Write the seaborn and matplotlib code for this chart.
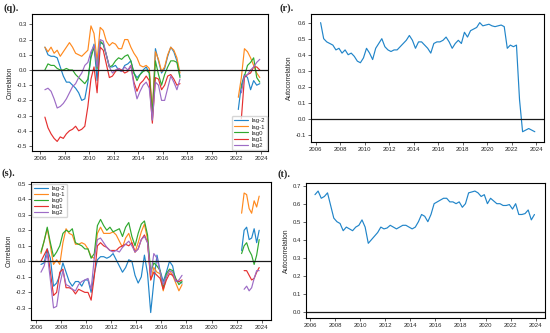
import numpy as np
import pandas as pd
import matplotlib
matplotlib.use("Agg")
import matplotlib.pyplot as plt
import seaborn as sns

sns.set_style("ticks")
plt.rcParams["font.family"] = ["Liberation Sans", "DejaVu Sans"]

# ---------------- categories ----------------
lags = ["lag-2", "lag-1", "lag0", "lag1", "lag2"]
lag_colors = ["#2185c9", "#ff8a1f", "#30a830", "#e53030", "#9d6cc6"]
year_ticks = [2006, 2008, 2010, 2012, 2014, 2016, 2018, 2020, 2022, 2024]

# time grids (decimal years)
t_q1 = np.round(2006.4 + 0.25 * np.arange(45), 2)
t_q2 = np.round(2022.15 + 0.25 * np.arange(8), 2)
t_s1 = np.round(2006.4 + 0.25 * np.arange(46), 2)
t_s2 = np.round(2022.4 + 0.2 * np.arange(8), 2)
t_full = np.round(2006.4 + 0.25 * np.arange(71), 2)

# ---------------- panel (q) ----------------
q1_lag_m2 = [0.15, 0.10, 0.09, 0.09, 0.08, 0.02, -0.04, -0.08, -0.08, -0.10, -0.12, -0.15, -0.20, -0.19, -0.08,
             0.10, 0.17, -0.07, 0.18, 0.17, 0.10, 0.02, 0.02, 0.03, 0.00, -0.01, 0.03, 0.04, 0.06, -0.02,
             -0.05, -0.03, 0.00, 0.02, -0.02, -0.33, 0.14, 0.06, -0.02, 0.01, 0.09, 0.15, 0.12, 0.06, -0.04]
q1_lag_m1 = [0.15, 0.12, 0.15, 0.11, 0.13, 0.09, 0.12, 0.15, 0.18, 0.15, 0.11, 0.10, 0.09, 0.11, 0.13,
             0.29, 0.24, 0.06, 0.28, 0.26, 0.19, 0.16, 0.18, 0.17, 0.14, 0.14, 0.20, 0.20, 0.15, 0.11,
             0.08, 0.03, 0.02, 0.03, 0.01, -0.27, 0.12, 0.07, -0.01, 0.02, 0.10, 0.15, 0.13, 0.08, -0.02]
q1_lag_0 = [0.00, 0.04, 0.03, 0.03, 0.01, 0.00, 0.00, 0.01, 0.00, 0.00, -0.03, -0.05, -0.07, -0.09, -0.06,
            0.08, 0.15, 0.01, 0.19, 0.17, 0.10, 0.02, 0.03, 0.06, 0.08, 0.07, 0.09, 0.10, 0.06, -0.02,
            -0.07, -0.03, -0.01, 0.00, -0.02, -0.29, 0.06, -0.03, -0.10, -0.03, 0.02, 0.06, 0.06, 0.05, -0.05]
q1_lag_1 = [-0.31, -0.38, -0.42, -0.45, -0.47, -0.44, -0.45, -0.42, -0.40, -0.39, -0.37, -0.40, -0.39, -0.37, -0.24,
            -0.06, 0.02, -0.15, 0.15, 0.13, 0.04, -0.05, -0.04, -0.01, 0.01, 0.00, -0.02, -0.01, 0.03, -0.08,
            -0.14, -0.09, -0.07, -0.04, -0.07, -0.35, -0.05, -0.06, -0.13, -0.10, -0.04, -0.03, -0.06, -0.10, -0.09]
q1_lag_2 = [-0.13, -0.12, -0.14, -0.19, -0.25, -0.24, -0.22, -0.19, -0.15, -0.11, -0.09, -0.05, -0.02, 0.03, 0.05,
            0.12, 0.16, 0.02, 0.20, 0.19, 0.10, 0.02, -0.02, 0.00, 0.01, -0.01, 0.02, 0.00, 0.03, -0.10,
            -0.19, -0.14, -0.10, -0.08, -0.12, -0.33, -0.08, -0.10, -0.20, -0.20, -0.12, -0.04, -0.08, -0.13, -0.06]

q2_lag_m2 = [-0.26, -0.10, -0.03, -0.05, -0.13, -0.07, -0.10, -0.09]
q2_lag_m1 = [-0.18, -0.05, 0.14, 0.12, 0.08, 0.03, -0.02, -0.05]
q2_lag_0 = [np.nan, -0.12, -0.04, 0.03, 0.05, 0.08, -0.05, -0.08]
q2_lag_1 = [np.nan, -0.32, -0.05, -0.03, -0.02, 0.02, 0.02, 0.00]
q2_lag_2 = [np.nan, -0.15, -0.04, -0.03, 0.00, 0.02, 0.05, 0.07]

# ---------------- panel (r) ----------------
r_auto = [0.60, 0.50, 0.48, 0.47, 0.46, 0.43, 0.44, 0.41, 0.43, 0.40,
          0.41, 0.39, 0.36, 0.35, 0.38, 0.44, 0.41, 0.37, 0.44, 0.47,
          0.50, 0.45, 0.43, 0.42, 0.43, 0.43, 0.45, 0.47, 0.49, 0.52,
          0.49, 0.44, 0.48, 0.48, 0.46, 0.44, 0.41, 0.47, 0.48, 0.48,
          0.49, 0.51, 0.48, 0.44, 0.47, 0.49, 0.47, 0.54, 0.51, 0.55,
          0.56, 0.57, 0.60, 0.58, 0.585, 0.59, 0.58, 0.575, 0.58, 0.585,
          0.575, 0.44, 0.46, 0.45, 0.46, 0.12, -0.08, -0.07, -0.06, -0.07, -0.08]

# ---------------- panel (s) ----------------
s1_lag_m2 = [-0.02, -0.01, 0.08, 0.02, -0.16, -0.14, -0.09, -0.01, -0.07, -0.13,
             -0.16, -0.13, -0.13, -0.16, -0.12, -0.12, -0.20, -0.08, 0.01, 0.03,
             0.03, 0.02, 0.03, 0.05, 0.01, -0.03, -0.07, -0.04, 0.01, 0.00,
             -0.09, -0.14, -0.10, 0.04, -0.08, -0.33, -0.13, 0.04, -0.06, -0.13,
             -0.07, 0.00, -0.03, -0.13, -0.13, -0.14]
s1_lag_m1 = [0.05, 0.13, 0.21, 0.10, -0.02, 0.01, -0.02, 0.12, 0.21, 0.18,
             0.17, 0.11, 0.11, 0.12, 0.11, 0.08, 0.03, 0.02, 0.18, 0.22,
             0.18, 0.18, 0.18, 0.19, 0.17, 0.13, 0.09, 0.15, 0.18, 0.12,
             0.06, 0.12, 0.19, 0.24, 0.14, -0.12, -0.04, -0.07, -0.08, -0.19,
             -0.10, -0.06, -0.09, -0.14, -0.19, -0.15]
s1_lag_0 = [0.06, 0.13, 0.22, 0.12, 0.03, 0.06, 0.10, 0.18, 0.20, 0.19,
            0.21, 0.12, 0.11, 0.10, 0.08, 0.08, 0.02, 0.05, 0.23, 0.27,
            0.23, 0.20, 0.22, 0.19, 0.20, 0.21, 0.16, 0.22, 0.25, 0.16,
            0.10, 0.18, 0.24, 0.26, 0.17, -0.07, -0.01, -0.03, -0.06, -0.17,
            -0.08, -0.05, -0.06, -0.11, -0.15, -0.13]
s1_lag_1 = [0.00, 0.04, 0.08, -0.07, -0.22, -0.20, -0.07, -0.05, -0.17, -0.17,
            -0.18, -0.21, -0.18, -0.19, -0.20, -0.20, -0.25, -0.10, 0.10, 0.12,
            0.10, 0.09, 0.07, 0.07, 0.07, 0.09, 0.10, 0.11, 0.10, 0.12,
            0.06, 0.08, 0.14, 0.17, 0.12, -0.12, -0.07, -0.09, -0.11, -0.18,
            -0.12, -0.08, -0.09, -0.12, -0.13, -0.12]
s1_lag_2 = [-0.07, -0.03, 0.05, -0.12, -0.30, -0.29, -0.15, -0.06, -0.15, -0.16,
            -0.18, -0.19, -0.15, -0.13, -0.12, -0.11, -0.18, 0.02, 0.14, 0.15,
            0.12, 0.09, 0.07, 0.06, 0.07, 0.06, 0.09, 0.11, 0.13, 0.10,
            0.06, 0.08, 0.14, 0.16, 0.12, -0.09, 0.05, 0.02, -0.07, -0.15,
            -0.10, -0.06, -0.07, -0.13, -0.12, -0.09]

s2_lag_m2 = [0.07, 0.20, 0.22, 0.14, 0.15, 0.21, 0.12, 0.20]
s2_lag_m1 = [0.31, 0.44, 0.43, 0.34, 0.31, 0.39, 0.35, 0.42]
s2_lag_0 = [0.05, 0.10, 0.12, 0.07, 0.04, -0.02, 0.04, 0.14]
s2_lag_1 = [np.nan, -0.06, -0.06, -0.09, -0.12, -0.11, -0.07, -0.04]
s2_lag_2 = [np.nan, -0.18, -0.16, -0.19, -0.17, -0.11, -0.06, -0.06]

# ---------------- panel (t) ----------------
t_auto = [0.65, 0.67, 0.63, 0.64, 0.66, 0.59, 0.52, 0.50, 0.49, 0.45,
          0.47, 0.46, 0.45, 0.47, 0.48, 0.51, 0.47, 0.38, 0.40, 0.42,
          0.44, 0.47, 0.46, 0.465, 0.48, 0.47, 0.46, 0.47, 0.48, 0.48,
          0.47, 0.46, 0.47, 0.50, 0.54, 0.53, 0.50, 0.54, 0.60, 0.61,
          0.62, 0.63, 0.63, 0.61, 0.61, 0.60, 0.61, 0.58, 0.60, 0.66,
          0.665, 0.67, 0.66, 0.64, 0.65, 0.60, 0.63, 0.615, 0.60, 0.60,
          0.59, 0.59, 0.595, 0.57, 0.60, 0.54, 0.54, 0.545, 0.565, 0.51, 0.54]


def long_frame(segments):
    frames = []
    for seg_id, (tt, series) in enumerate(segments):
        for lag, vals in zip(lags, series):
            frames.append(pd.DataFrame({"year": tt, "value": vals, "lag": lag, "seg": seg_id}))
    return pd.concat(frames, ignore_index=True).dropna()


df_q = long_frame([(t_q1, [q1_lag_m2, q1_lag_m1, q1_lag_0, q1_lag_1, q1_lag_2]),
                   (t_q2, [q2_lag_m2, q2_lag_m1, q2_lag_0, q2_lag_1, q2_lag_2])])
df_s = long_frame([(t_s1, [s1_lag_m2, s1_lag_m1, s1_lag_0, s1_lag_1, s1_lag_2]),
                   (t_s2, [s2_lag_m2, s2_lag_m1, s2_lag_0, s2_lag_1, s2_lag_2])])
df_r = pd.DataFrame({"year": t_full, "value": r_auto})
df_t = pd.DataFrame({"year": t_full, "value": t_auto})

fig = plt.figure(figsize=(5.5, 3.33), dpi=100)
ax_q = fig.add_axes([0.0582, 0.5465, 0.4291, 0.4114])
ax_r = fig.add_axes([0.5649, 0.5745, 0.4242, 0.3826])
ax_s = fig.add_axes([0.0558, 0.0390, 0.4364, 0.4135])
ax_t = fig.add_axes([0.5558, 0.0459, 0.4351, 0.4036])

palette = dict(zip(lags, lag_colors))
for ax, df in [(ax_q, df_q), (ax_s, df_s)]:
    sns.lineplot(data=df, x="year", y="value", hue="lag", hue_order=lags, palette=palette,
                 units="seg", estimator=None, lw=0.85, ax=ax)
for ax, df in [(ax_r, df_r), (ax_t, df_t)]:
    sns.lineplot(data=df, x="year", y="value", color="#2185c9", lw=0.85, ax=ax)


def style(ax, xlim, ylim, yticks, ylabel):
    ax.axhline(0, color="#1a1a1a", lw=0.9, zorder=2.5)
    ax.set_xlim(*xlim)
    ax.set_ylim(*ylim)
    ax.set_xticks(year_ticks)
    ax.set_xticklabels([str(y) for y in year_ticks])
    ax.set_yticks(yticks)
    ax.set_yticklabels([f"{v:.1f}" for v in yticks])
    ax.set_xlabel("")
    ax.set_ylabel(ylabel, fontsize=4.8, labelpad=2)
    ax.tick_params(labelsize=4.3, length=2, width=0.5, pad=1.5)
    for sp in ax.spines.values():
        sp.set_linewidth(0.8)
        sp.set_color("black")


style(ax_q, (2005.35, 2024.57), (-0.533, 0.368), [-0.5, -0.4, -0.3, -0.2, -0.1, 0.0, 0.1, 0.2, 0.3], "Correlation")
style(ax_r, (2005.59, 2024.65), (-0.142, 0.652), [-0.1, 0.0, 0.1, 0.2, 0.3, 0.4, 0.5, 0.6], "Autocorrelation")
style(ax_s, (2005.58, 2024.72), (-0.378, 0.509), [-0.3, -0.2, -0.1, 0.0, 0.1, 0.2, 0.3, 0.4, 0.5], "Correlation")
style(ax_t, (2005.66, 2024.74), (-0.033, 0.713), [0.0, 0.1, 0.2, 0.3, 0.4, 0.5, 0.6, 0.7], "Autocorrelation")

for ax, loc in [(ax_q, "lower right"), (ax_s, "upper left")]:
    h, l = ax.get_legend_handles_labels()
    ax.legend(h, l, loc=loc, fontsize=4.3, labelspacing=0.15, handlelength=2.3,
              handletextpad=0.6, borderpad=0.35, borderaxespad=0.2, frameon=True)

panel_font = dict(fontsize=7.5, fontweight="bold", family=["Liberation Serif", "DejaVu Serif"], va="top")
fig.text(3 / 550, 1 - 3 / 333, "(q).", **panel_font)
fig.text(279 / 550, 1 - 3 / 333, "(r).", **panel_font)
fig.text(2 / 550, 1 - 168 / 333, "(s).", **panel_font)
fig.text(277 / 550, 1 - 169 / 333, "(t).", **panel_font)

fig.savefig("out.png", dpi=100)
